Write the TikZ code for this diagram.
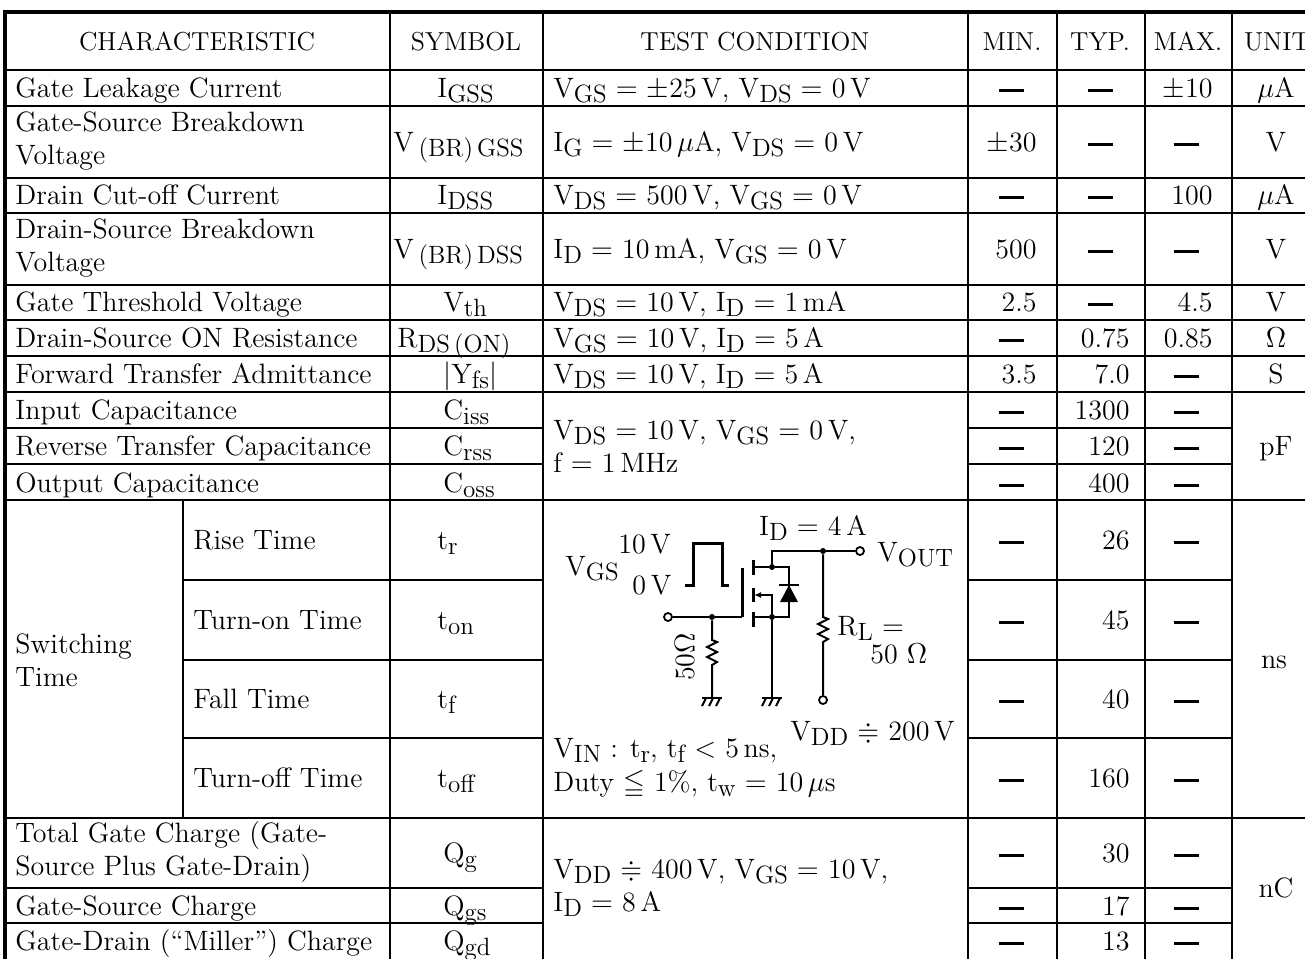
\documentclass[tikz,border=0pt]{standalone}
\usepackage{amssymb}
\usetikzlibrary{arrows.meta}

\newcommand{\lo}[1]{\raisebox{-2.5pt}{\fontsize{12.5}{13}\selectfont #1}}
\newcommand{\nodata}{\rule[2.5pt]{12.5pt}{1.5pt}}

\tikzstyle{every node}=[inner sep=0pt, font=\fontsize{14}{16.5}\selectfont]
\tikzstyle{head}=[anchor=base, font=\fontsize{13}{15}\selectfont]
\tikzstyle{lcell}=[anchor=base west]
\tikzstyle{ccell}=[anchor=base]
\tikzstyle{rcell}=[anchor=base east]
\tikzstyle{twoline}=[anchor=west, align=left]
\tikzstyle{frame}=[line width=2pt]
\tikzstyle{gridline}=[line width=1pt]
\tikzstyle{wire}=[line width=1pt]
\tikzstyle{heavy}=[line width=1.5pt]
\tikzstyle{port}=[draw, circle, fill=white, line width=0.9pt, minimum size=4pt]
\tikzstyle{joint}=[fill, circle, minimum size=3pt]

\begin{document}
\begin{tikzpicture}[x=0.5pt, y=-0.5pt]
\useasboundingbox (0,0) rectangle (1305,958);
\clip (0,0) rectangle (1305,958);
% Frame
    \draw[frame] (5,964) -- (5,12) -- (1322,12);
% Full rows
    \draw[gridline, line width=1.4pt] (5,70) -- (1322,70);
    \draw[gridline] (5,106) -- (1322,106);
    \draw[gridline] (5,178) -- (1322,178);
    \draw[gridline] (5,213) -- (1322,213);
    \draw[gridline] (5,285) -- (1322,285);
    \draw[gridline] (5,320) -- (1322,320);
    \draw[gridline] (5,356) -- (1322,356);
    \draw[gridline] (5,392) -- (1322,392);
    \draw[gridline] (5,500) -- (1322,500);
    \draw[gridline] (5,818) -- (1322,818);
    \draw[gridline] (5,961) -- (1322,961);
% Partial rows
    \draw[gridline] (5,428) -- (543,428);
    \draw[gridline] (5,464) -- (543,464);
    \draw[gridline] (968,428) -- (1232,428);
    \draw[gridline] (968,464) -- (1232,464);
    \draw[gridline] (183,580) -- (543,580);
    \draw[gridline] (183,660) -- (543,660);
    \draw[gridline] (183,738) -- (543,738);
    \draw[gridline] (968,580) -- (1232,580);
    \draw[gridline] (968,660) -- (1232,660);
    \draw[gridline] (968,738) -- (1232,738);
    \draw[gridline] (5,888) -- (543,888);
    \draw[gridline] (5,923) -- (543,923);
    \draw[gridline] (968,888) -- (1232,888);
    \draw[gridline] (968,923) -- (1232,923);
% Columns
    \draw[gridline] (183,500) -- (183,818);
    \draw[gridline] (390,12) -- (390,964);
    \draw[gridline] (543,12) -- (543,964);
    \draw[gridline] (968,12) -- (968,964);
    \draw[gridline] (1057,12) -- (1057,964);
    \draw[gridline] (1145,12) -- (1145,964);
    \draw[gridline] (1232,12) -- (1232,964);
    \draw[frame] (1322,12) -- (1322,964);
% Header
    \node[head] (hchar) at (197,50) {CHARACTERISTIC};
    \node[head] (hsym) at (466,50) {SYMBOL};
    \node[head] (htest) at (755,50) {TEST CONDITION};
    \node[head] (hmin) at (1012,50) {MIN.};
    \node[head] (htyp) at (1100,50) {TYP.};
    \node[head] (hmax) at (1188,50) {MAX.};
    \node[head] (hunit) at (1277,50) {UNIT};
% Gate leakage
    \node[lcell] (c1) at (15,97) {Gate Leakage Current};
    \node[lcell] (s1) at (437,97) {I\lo{GSS}};
    \node[lcell] (t1) at (553,97) {V\lo{GS} $=$ $\pm$25\,V, V\lo{DS} $=$ 0\,V};
    \node[ccell] (mn1) at (1011,97) {\nodata};
    \node[ccell] (ty1) at (1100,97) {\nodata};
    \node[rcell] (mx1) at (1213,97) {$\pm$10};
    \node[ccell] (u1) at (1276,97) {$\mu$A};
% Gate-source breakdown
    \node[twoline] (c2) at (15,141) {Gate-Source Breakdown\\Voltage};
    \node[lcell] (s2) at (393,151) {V\,\lo{(BR)\,GSS}};
    \node[lcell] (t2) at (553,151) {I\lo{G} $=$ $\pm$10\,$\mu$A, V\lo{DS} $=$ 0\,V};
    \node[rcell] (mn2) at (1037,151) {$\pm$30};
    \node[ccell] (ty2) at (1100,151) {\nodata};
    \node[ccell] (mx2) at (1186,151) {\nodata};
    \node[ccell] (u2) at (1276,151) {V};
% Drain cut-off
    \node[lcell] (c3) at (15,204) {Drain Cut-off Current};
    \node[lcell] (s3) at (437,204) {I\lo{DSS}};
    \node[lcell] (t3) at (553,204) {V\lo{DS} $=$ 500\,V, V\lo{GS} $=$ 0\,V};
    \node[ccell] (mn3) at (1011,204) {\nodata};
    \node[ccell] (ty3) at (1100,204) {\nodata};
    \node[rcell] (mx3) at (1213,204) {100};
    \node[ccell] (u3) at (1276,204) {$\mu$A};
% Drain-source breakdown
    \node[twoline] (c4) at (15,248) {Drain-Source Breakdown\\Voltage};
    \node[lcell] (s4) at (393,258) {V\,\lo{(BR)\,DSS}};
    \node[lcell] (t4) at (553,258) {I\lo{D} $=$ 10\,mA, V\lo{GS} $=$ 0\,V};
    \node[rcell] (mn4) at (1037,258) {500};
    \node[ccell] (ty4) at (1100,258) {\nodata};
    \node[ccell] (mx4) at (1186,258) {\nodata};
    \node[ccell] (u4) at (1276,258) {V};
% Threshold
    \node[lcell] (c5) at (15,311) {Gate Threshold Voltage};
    \node[lcell] (s5) at (443,311) {V\lo{th}};
    \node[lcell] (t5) at (553,311) {V\lo{DS} $=$ 10\,V, I\lo{D} $=$ 1\,mA};
    \node[rcell] (mn5) at (1037,311) {2.5};
    \node[ccell] (ty5) at (1100,311) {\nodata};
    \node[rcell] (mx5) at (1213,311) {4.5};
    \node[ccell] (u5) at (1276,311) {V};
% On resistance
    \node[lcell] (c6) at (15,347) {Drain-Source ON Resistance};
    \node[lcell] (s6) at (397,347) {R\lo{DS\,(ON)}};
    \node[lcell] (t6) at (553,347) {V\lo{GS} $=$ 10\,V, I\lo{D} $=$ 5\,A};
    \node[ccell] (mn6) at (1011,347) {\nodata};
    \node[rcell] (ty6) at (1130,347) {0.75};
    \node[rcell] (mx6) at (1213,347) {0.85};
    \node[ccell] (u6) at (1276,347) {$\Omega$};
% Admittance
    \node[lcell] (c7) at (15,383) {Forward Transfer Admittance};
    \node[lcell] (s7) at (443,383) {$|$Y\lo{fs}$|$};
    \node[lcell] (t7) at (553,383) {V\lo{DS} $=$ 10\,V, I\lo{D} $=$ 5\,A};
    \node[rcell] (mn7) at (1037,383) {3.5};
    \node[rcell] (ty7) at (1130,383) {7.0};
    \node[ccell] (mx7) at (1186,383) {\nodata};
    \node[ccell] (u7) at (1276,383) {S};
% Capacitances
    \node[lcell] (c8) at (15,419) {Input Capacitance};
    \node[lcell] (c9) at (15,455) {Reverse Transfer Capacitance};
    \node[lcell] (c10) at (15,492) {Output Capacitance};
    \node[lcell] (s8) at (443,419) {C\lo{iss}};
    \node[lcell] (s9) at (443,455) {C\lo{rss}};
    \node[lcell] (s10) at (443,492) {C\lo{oss}};
    \node[twoline] (t8) at (553,446) {V\lo{DS} $=$ 10\,V, V\lo{GS} $=$ 0\,V,\\f $=$ 1\,MHz};
    \node[ccell] (mn8) at (1011,419) {\nodata};
    \node[ccell] (mn9) at (1011,455) {\nodata};
    \node[ccell] (mn10) at (1011,492) {\nodata};
    \node[rcell] (ty8) at (1130,419) {1300};
    \node[rcell] (ty9) at (1130,455) {120};
    \node[rcell] (ty10) at (1130,492) {400};
    \node[ccell] (mx8) at (1186,419) {\nodata};
    \node[ccell] (mx9) at (1186,455) {\nodata};
    \node[ccell] (mx10) at (1186,492) {\nodata};
    \node[ccell] (u8) at (1276,455) {pF};
% Switching time
    \node[twoline] (c11) at (15,660) {Switching\\Time};
    \node[lcell] (d11) at (193,549) {Rise Time};
    \node[lcell] (d12) at (193,629) {Turn-on Time};
    \node[lcell] (d13) at (193,708) {Fall Time};
    \node[lcell] (d14) at (193,787) {Turn-off Time};
    \node[lcell] (s11) at (437,549) {t\lo{r}};
    \node[lcell] (s12) at (437,629) {t\lo{on}};
    \node[lcell] (s13) at (437,708) {t\lo{f}};
    \node[lcell] (s14) at (437,787) {t\lo{off}};
    \node[ccell] (mn11) at (1011,549) {\nodata};
    \node[ccell] (mn12) at (1011,629) {\nodata};
    \node[ccell] (mn13) at (1011,708) {\nodata};
    \node[ccell] (mn14) at (1011,787) {\nodata};
    \node[rcell] (ty11) at (1130,549) {26};
    \node[rcell] (ty12) at (1130,629) {45};
    \node[rcell] (ty13) at (1130,708) {40};
    \node[rcell] (ty14) at (1130,787) {160};
    \node[ccell] (mx11) at (1186,549) {\nodata};
    \node[ccell] (mx12) at (1186,629) {\nodata};
    \node[ccell] (mx13) at (1186,708) {\nodata};
    \node[ccell] (mx14) at (1186,787) {\nodata};
    \node[ccell] (u11) at (1274,668) {ns};
% Test circuit
    \node[port] (vin) at (668,617) {};
    \node[joint] (jg) at (712,617) {};
    \coordinate (gb) at (742,617);
    \coordinate (gt) at (742,568);
    \coordinate (g1) at (712,698);
    \coordinate (g2) at (772,698);
    \node[joint] (dd) at (772,567) {};
    \node[joint] (sd) at (772,617) {};
    \node[joint] (jo) at (823,551) {};
    \node[port] (vout) at (860,551) {};
    \node[port] (vdd) at (823,700) {};
    \draw[wire] (vin) -- (jg) -- (gb);
    \draw[heavy] (gb) -- (gt);
    \draw[heavy] (753,560) -- (753,575);
    \draw[heavy] (753,588) -- (753,602);
    \draw[heavy] (753,612) -- (753,627);
    \draw[wire] (753,567) -- (dd);
    \draw[wire] (753,617) -- (sd);
    \draw[wire, -{Latex[length=3.5pt, width=3pt]}] (sd) -- (772,595) -- (754,595);
    \draw[wire] (dd) -- (772,551) -- (jo) -- (vout);
    \draw[wire] (dd) -- (789,567) -- (789,617) -- (sd);
    \fill (789,585) -- (780,602) -- (798,602) -- cycle;
    \draw[wire] (779,585) -- (799,585);
    \draw[wire] (jg) -- ++(0,23) -- ++(5,2) -- ++(-10,5) -- ++(10,5) -- ++(-10,5) -- ++(10,5) -- ++(-5,3) -- (g1);
    \draw[wire] (jo) -- ++(0,66) -- ++(5,2) -- ++(-10,5) -- ++(10,5) -- ++(-10,5) -- ++(10,5) -- ++(-5,3) -- (vdd);
    \draw[wire] (sd) -- (g2);
% Grounds
    \draw[wire] (702,698) -- (722,698);
    \draw[wire] (706,698) -- (702,706);
    \draw[wire] (713,698) -- (709,706);
    \draw[wire] (720,698) -- (716,706);
    \draw[wire] (762,698) -- (782,698);
    \draw[wire] (766,698) -- (762,706);
    \draw[wire] (773,698) -- (769,706);
    \draw[wire] (780,698) -- (776,706);
% Gate pulse
    \draw[heavy] (685,585) -- (693,585) -- (693,543) -- (722,543) -- (722,585) -- (729,585);
% Circuit labels
    \node[lcell] (lvgs) at (565,575) {V\lo{GS}};
    \node[lcell] (lhi) at (618,553) {10\,V};
    \node[lcell] (llo) at (632,594) {0\,V};
    \node[ccell] (lid) at (813,535) {I\lo{D} $=$ 4\,A};
    \node[lcell] (lout) at (877,561) {V\lo{OUT}};
    \node[rotate=90] (lrg) at (685,657) {50$\Omega$};
    \node[lcell] (lrl) at (837,635) {R\lo{L} $=$};
    \node[lcell] (lrl2) at (870,663) {50 $\Omega$};
    \node[lcell] (lvdd) at (790,740) {V\lo{DD} $\doteqdot$ 200\,V};
    \node[lcell] (lvin) at (553,757) {V\lo{IN} : t\lo{r}, t\lo{f} $<$ 5\,ns,};
    \node[lcell] (lduty) at (553,791) {Duty $\leqq$ 1\%, t\lo{w} $=$ 10\,$\mu$s};
% Gate charge
    \node[twoline] (c15) at (15,852) {Total Gate Charge (Gate-\\Source Plus Gate-Drain)};
    \node[lcell] (c16) at (15,915) {Gate-Source Charge};
    \node[lcell] (c17) at (15,950) {Gate-Drain (``Miller'') Charge};
    \node[lcell] (s15) at (443,862) {Q\lo{g}};
    \node[lcell] (s16) at (443,915) {Q\lo{gs}};
    \node[lcell] (s17) at (443,950) {Q\lo{gd}};
    \node[twoline] (t15) at (553,888) {V\lo{DD} $\doteqdot$ 400\,V, V\lo{GS} $=$ 10\,V,\\I\lo{D} $=$ 8\,A};
    \node[ccell] (mn15) at (1011,862) {\nodata};
    \node[ccell] (mn16) at (1011,915) {\nodata};
    \node[ccell] (mn17) at (1011,950) {\nodata};
    \node[rcell] (ty15) at (1130,862) {30};
    \node[rcell] (ty16) at (1130,915) {17};
    \node[rcell] (ty17) at (1130,950) {13};
    \node[ccell] (mx15) at (1186,862) {\nodata};
    \node[ccell] (mx16) at (1186,915) {\nodata};
    \node[ccell] (mx17) at (1186,950) {\nodata};
    \node[ccell] (u15) at (1276,897) {nC};
\end{tikzpicture}
\end{document}
